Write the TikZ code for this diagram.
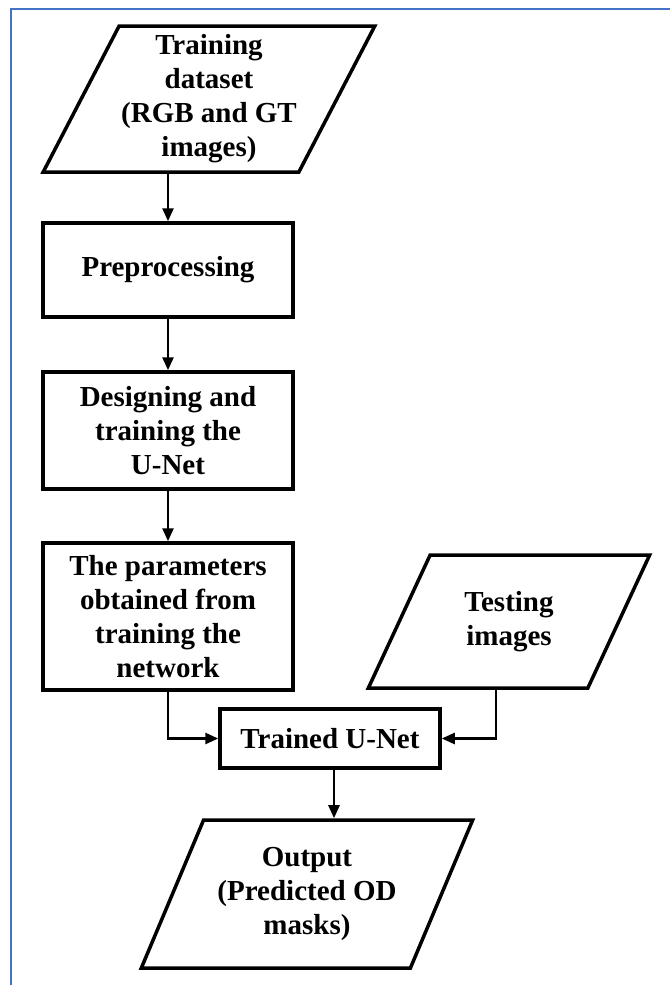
\documentclass[tikz,border=0pt]{standalone}
\usepackage{fontspec}
\setmainfont{Liberation Serif}
\usetikzlibrary{shapes.geometric,arrows.meta}
\definecolor{frameblue}{RGB}{68,114,196}
\begin{document}
\begin{tikzpicture}[x=1pt,y=-1pt]
	\tikzstyle{every node}+=[inner sep=0pt,align=center,font=\fontsize{29}{34}\selectfont\bfseries]
	\tikzstyle{block}=[draw,line width=3.5pt,minimum width=250pt]
	\tikzstyle{io}=[draw,line width=3.5pt,trapezium,trapezium left angle=60,trapezium right angle=120,trapezium stretches=true]
	\tikzstyle{flow}=[line width=2.6pt,-{Triangle[length=13pt,width=11pt]}]
	\useasboundingbox (0,0) rectangle (670,985);
	\draw [frameblue,line width=2pt] (11,985) -- (11,9) -- (670,9);
	\node [io,minimum width=332pt,minimum height=146pt] (train) at (209,99) {Training\\dataset\\(RGB and GT\\images)};
	\node [block,minimum height=94pt] (pre) at (168,270) {Preprocessing};
	\node [block,minimum height=117pt] (design) at (168,430.5) {Designing and\\training the\\U-Net};
	\node [block,minimum height=147pt] (param) at (168,616.5) {The parameters\\obtained from\\training the\\network};
	\node [io,minimum width=282pt,minimum height=133pt] (test) at (509,621.5) {Testing\\images};
	\node [block,minimum width=220pt,minimum height=59pt] (trained) at (330,738.5) {Trained U-Net};
	\node [io,minimum width=332pt,minimum height=148pt] (out) at (307,894) {Output\\(Predicted OD\\masks)};
	\draw [flow] (pre.north |- train.south) -- (pre.north);
	\draw [flow] (pre) -- (design);
	\draw [flow] (design) -- (param);
	\draw [flow] (param.south) |- (trained.west);
	\draw [flow] ([xshift=-13pt]test.south) |- (trained.east);
	\draw [flow] ([xshift=4pt]trained.south) -- ([xshift=4pt]trained.south |- out.north);
\end{tikzpicture}
\end{document}
